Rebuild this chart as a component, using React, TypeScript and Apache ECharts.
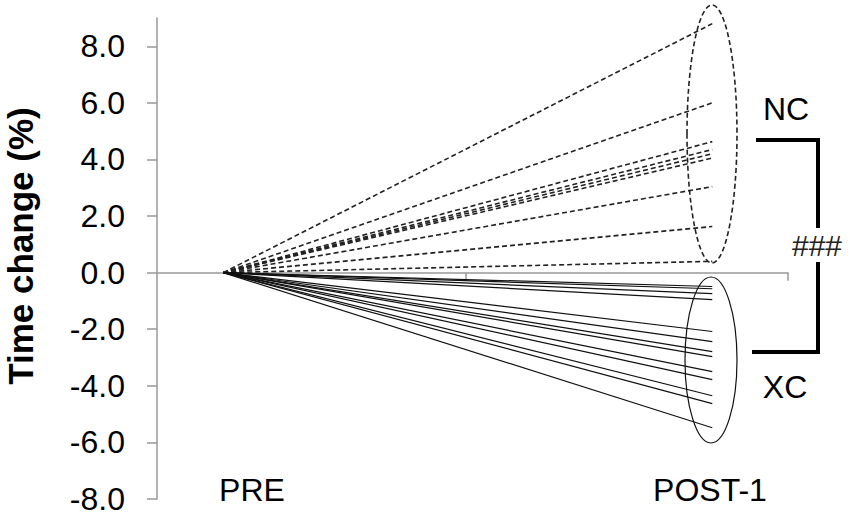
import React, { useEffect, useRef } from "react";
import * as echarts from "echarts";

// Data
const groupNC: number[] = [8.8, 6.0, 4.63, 4.35, 4.2, 4.05, 3.04, 1.63, 0.4];
const groupXC: number[] = [-0.49, -0.57, -0.74, -0.95, -2.08, -2.44, -2.79, -2.97, -3.5, -3.78, -4.35, -4.63, -5.48];
const xStart = 0.21;
const xEnd = 1.76;
const yTicks: number[] = [-8, -6, -4, -2, 0, 2, 4, 6, 8];
const phaseLabels: string[] = ["PRE", "POST-1"];
const groupLabels: string[] = ["NC", "XC"];
const sigLabel = "###";
const yTitle = "Time change (%)";

const FONT = "'Liberation Sans', Arial, sans-serif";

export default function App() {
  const ref = useRef<HTMLDivElement>(null);
  useEffect(() => {
    if (!ref.current) return;
    const chart = echarts.init(ref.current, undefined, { renderer: "svg" });
    const series: any[] = [];
    groupNC.forEach((v, i) => {
      series.push({
        type: "line",
        name: "NC" + i,
        data: [[xStart, 0], [xEnd, v]],
        symbol: "none",
        silent: true,
        lineStyle: { color: "#222", width: 1.6, type: [5, 3] },
      });
    });
    groupXC.forEach((v, i) => {
      series.push({
        type: "line",
        name: "XC" + i,
        data: [[xStart, 0], [xEnd, v]],
        symbol: "none",
        silent: true,
        lineStyle: { color: "#111", width: 1.2, type: "solid" },
      });
    });
    chart.setOption({
      animation: false,
      grid: { left: 157, right: 62, top: 18, bottom: 18 },
      xAxis: {
        type: "value",
        min: 0,
        max: 2,
        interval: 1,
        axisLine: { onZero: true, lineStyle: { color: "#999", width: 1.5 } },
        axisTick: { show: true, length: 8, customValues: [0.98, 2], lineStyle: { color: "#999", width: 1.5 } },
        axisLabel: { show: false },
        splitLine: { show: false },
      },
      yAxis: {
        type: "value",
        min: -8,
        max: 9,
        axisLine: { show: true, lineStyle: { color: "#999", width: 1.5 } },
        axisTick: { show: true, length: 10, customValues: yTicks, lineStyle: { color: "#999", width: 1.5 } },
        axisLabel: {
          customValues: yTicks,
          formatter: (v: number) => v.toFixed(1),
          fontSize: 32,
          fontFamily: FONT,
          color: "#000",
          margin: 32,
        },
        splitLine: { show: false },
      },
      graphic: [
        {
          type: "text",
          x: 20,
          y: 246,
          rotation: Math.PI / 2,
          style: {
            text: yTitle,
            fontSize: 35,
            fontWeight: "bold",
            fontFamily: FONT,
            fill: "#000",
            align: "center",
            verticalAlign: "middle",
          },
        },
        {
          type: "text",
          x: 252,
          y: 490,
          style: { text: phaseLabels[0], fontSize: 32, fontFamily: FONT, fill: "#000", align: "center", verticalAlign: "middle" },
        },
        {
          type: "text",
          x: 710,
          y: 490,
          style: { text: phaseLabels[1], fontSize: 32, fontFamily: FONT, fill: "#000", align: "center", verticalAlign: "middle" },
        },
        {
          type: "text",
          x: 786,
          y: 109,
          style: { text: groupLabels[0], fontSize: 32, fontFamily: FONT, fill: "#000", align: "center", verticalAlign: "middle" },
        },
        {
          type: "text",
          x: 785,
          y: 387,
          style: { text: groupLabels[1], fontSize: 32, fontFamily: FONT, fill: "#000", align: "center", verticalAlign: "middle" },
        },
        {
          type: "text",
          x: 817,
          y: 245,
          style: { text: sigLabel, fontSize: 30, fontFamily: FONT, fill: "#222", align: "center", verticalAlign: "middle" },
        },
        {
          type: "polyline",
          shape: { points: [[756, 140], [818, 140], [818, 228]] },
          style: { stroke: "#000", lineWidth: 4, fill: "none" },
        },
        {
          type: "polyline",
          shape: { points: [[818, 262], [818, 352], [752, 352]] },
          style: { stroke: "#000", lineWidth: 4, fill: "none" },
        },
        {
          type: "ellipse",
          shape: { cx: 712, cy: 134, rx: 25, ry: 129 },
          style: { stroke: "#222", lineWidth: 1.6, fill: "none", lineDash: [5, 3] },
        },
        {
          type: "ellipse",
          shape: { cx: 711, cy: 360, rx: 26, ry: 83 },
          style: { stroke: "#111", lineWidth: 1.2, fill: "none" },
        },
      ],
      series,
    });
    return () => chart.dispose();
  }, []);
  return (
    <div
      ref={ref}
      style={{ position: "fixed", left: 0, top: 0, width: 850, height: 517, background: "#fff" }}
    />
  );
}
